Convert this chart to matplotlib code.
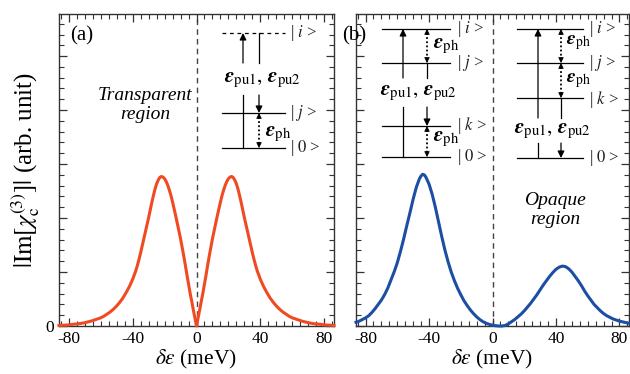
import matplotlib
matplotlib.use("Agg")
import matplotlib.pyplot as plt
from matplotlib.lines import Line2D
from matplotlib.patches import FancyArrowPatch
from matplotlib.ticker import MultipleLocator

plt.rcParams["font.family"] = ["Liberation Serif", "DejaVu Serif"]
plt.rcParams["mathtext.fontset"] = "stix"

# Panel (a): symmetric spectrum around zero detuning (meV, arb. unit)
de_a_pos = [0, 1, 2, 3, 4, 5, 6, 7, 8, 9, 10, 11, 12, 13, 14, 15, 16, 17, 18,
            19, 20, 21, 22, 23, 24, 25, 26, 27, 28, 29, 30, 31, 32, 33, 34, 35,
            36, 37, 38, 39, 40, 42, 44, 46, 48, 50, 52, 54, 56, 58, 60, 62, 64,
            66, 68, 70, 72, 74, 76, 78, 80, 83, 86]
im_a_pos = [0.00, 0.15, 0.30, 0.46, 0.61, 0.78, 0.95, 1.13, 1.30, 1.46, 1.62,
            1.76, 1.90, 2.04, 2.17, 2.30, 2.42, 2.52, 2.61, 2.68, 2.73, 2.76,
            2.77, 2.75, 2.70, 2.63, 2.53, 2.41, 2.28, 2.14, 2.00, 1.87, 1.74,
            1.61, 1.48, 1.35, 1.23, 1.12, 1.02, 0.94, 0.86, 0.73, 0.62, 0.52,
            0.44, 0.37, 0.31, 0.26, 0.22, 0.18, 0.15, 0.13, 0.11, 0.09, 0.075,
            0.06, 0.05, 0.04, 0.035, 0.03, 0.02, 0.015, 0.01]
de_a = [-v for v in de_a_pos[:0:-1]] + de_a_pos
im_a = im_a_pos[:0:-1] + im_a_pos

# Panel (b): asymmetric spectrum with a weak high-energy peak
de_b = [-86, -84, -82, -80, -78, -76, -74, -72, -70, -68, -66, -64, -62, -60,
        -58, -56, -54, -52, -50, -48, -46, -45, -44, -43, -42, -40, -38, -36,
        -34, -32, -30, -28, -26, -24, -22, -20, -18, -16, -14, -12, -10, -8,
        -6, -4, -2, 0, 2, 4, 6, 8, 10, 12, 14, 16, 18, 20, 22, 24, 26, 28, 30,
        32, 34, 36, 38, 40, 42, 44, 46, 48, 50, 52, 54, 56, 58, 60, 62, 64, 66,
        68, 70, 72, 74, 76, 78, 80, 83, 86]
im_b = [0.07, 0.09, 0.12, 0.15, 0.19, 0.25, 0.32, 0.40, 0.48, 0.58, 0.70, 0.85,
        1.00, 1.17, 1.38, 1.61, 1.86, 2.10, 2.35, 2.57, 2.73, 2.78, 2.81, 2.80,
        2.76, 2.63, 2.44, 2.20, 1.93, 1.66, 1.41, 1.19, 1.00, 0.84, 0.70, 0.58,
        0.47, 0.38, 0.30, 0.23, 0.17, 0.12, 0.08, 0.05, 0.03, 0.015, 0.005,
        0.00, 0.00, 0.01, 0.04, 0.08, 0.12, 0.17, 0.22, 0.28, 0.35, 0.42, 0.50,
        0.58, 0.67, 0.76, 0.84, 0.92, 0.99, 1.05, 1.09, 1.11, 1.10, 1.06, 1.00,
        0.92, 0.84, 0.75, 0.65, 0.56, 0.48, 0.40, 0.34, 0.28, 0.23, 0.19, 0.16,
        0.13, 0.11, 0.09, 0.07, 0.05]

x_ticks = [-80, -40, 0, 40, 80]
x_labels = ["-80", "-40", "0", "40", "80"]

W, H = 630, 374
fig = plt.figure(figsize=(W / 100, H / 100), dpi=100)
ax_a = fig.add_axes([59 / W, 48 / H, 275 / W, 312 / H])
ax_b = fig.add_axes([356 / W, 48 / H, 273 / W, 312 / H])

spine_col = "#333333"
for ax in (ax_a, ax_b):
    ax.set_xlim(-86, 86)
    ax.set_ylim(0, 5.78)
    ax.set_xticks(x_ticks)
    ax.set_xticklabels(x_labels, fontsize=12.5)
    ax.xaxis.set_minor_locator(MultipleLocator(5))
    ax.set_yticks(range(0, 6))
    ax.yaxis.set_minor_locator(MultipleLocator(0.2))
    ax.tick_params(which="both", direction="in", top=True, right=True,
                   colors=spine_col, labelcolor="black")
    ax.tick_params(which="major", length=6, width=0.9)
    ax.tick_params(which="minor", length=3.5, width=0.8)
    for s in ax.spines.values():
        s.set_color(spine_col)
        s.set_linewidth(1.0)
    ax.axvline(0, color="#444444", lw=1.0, ls=(0, (4, 3)), zorder=1)
    ax.set_xlabel(r"$\delta\varepsilon$ (meV)", fontsize=15.5, labelpad=1)

ax_a.set_yticklabels(["0", "", "", "", "", ""], fontsize=12.5)
ax_b.set_yticklabels([])
ax_a.set_ylabel(r"$|\mathrm{Im}[\chi_{\mathrm{c}}^{(3)}]|$ (arb. unit)",
                fontsize=18, labelpad=3)

ax_a.plot(de_a, im_a, color="#f04a22", lw=2.2, zorder=3, clip_on=False,
          solid_joinstyle="round")
ax_b.plot(de_b, im_b, color="#1c4ea3", lw=2.2, zorder=3, clip_on=False,
          solid_joinstyle="round")

ax_a.text(0.04, 0.93, "(a)", transform=ax_a.transAxes, fontsize=15,
          va="center", ha="left")
ax_b.text(-0.05, 0.93, "(b)", transform=ax_b.transAxes, fontsize=15,
          va="center", ha="left")
fig.text(145 / W, 1 - 105 / H, "Transparent\nregion", fontsize=14,
         style="italic", ha="center", va="center", linespacing=1.1)
fig.text(555 / W, 1 - 210 / H, "Opaque\nregion", fontsize=14,
         style="italic", ha="center", va="center", linespacing=1.1)


# Energy-level diagrams, placed in figure pixel units
def P(x, y):
    return (x / W, 1 - y / H)


def level(x0, x1, y, ls="-"):
    fig.add_artist(Line2D([x0 / W, x1 / W], [1 - y / H, 1 - y / H],
                          transform=fig.transFigure, color="k", lw=0.9, ls=ls))


def vline(x, y0, y1):
    fig.add_artist(Line2D([x / W, x / W], [1 - y0 / H, 1 - y1 / H],
                          transform=fig.transFigure, color="k", lw=0.9))


def arrow(x, y_from, y_to):
    fig.add_artist(FancyArrowPatch(
        P(x, y_from), P(x, y_to), transform=fig.transFigure,
        arrowstyle="-|>", mutation_scale=10, lw=0.9, color="k",
        shrinkA=0, shrinkB=0))


def dotted(x, y0, y1):
    fig.add_artist(Line2D([x / W, x / W], [1 - (y0 + 4) / H, 1 - (y1 - 4) / H],
                          transform=fig.transFigure, color="k", lw=1.3,
                          ls=(0, (1, 1.3))))
    for ya, yb in ((y0 + 5, y0), (y1 - 5, y1)):
        fig.add_artist(FancyArrowPatch(
            P(x, ya), P(x, yb), transform=fig.transFigure,
            arrowstyle="-|>", mutation_scale=8, lw=0.6, color="k",
            shrinkA=0, shrinkB=0))


def ket(x, y, s):
    fig.text(x / W, 1 - y / H, r"| $%s$ >" % s, fontsize=12,
             ha="left", va="center", color="#222222")


eps_pu = (r"$\mathbfit{\varepsilon}_{\rm pu1},\,"
          r"\mathbfit{\varepsilon}_{\rm pu2}$")
eps_ph = r"$\mathbfit{\varepsilon}_{\rm ph}$"

# diagram in panel (a)
level(222, 285, 33, ls=(0, (3, 3)))
level(222, 285, 113)
level(222, 285, 148)
vline(243, 148, 95)
arrow(243, 63, 33)
vline(259, 33, 63)
arrow(259, 95, 113)
dotted(259, 113, 148)
fig.text(262 / W, 1 - 80 / H, eps_pu, fontsize=15, ha="center", va="center")
fig.text(265 / W, 1 - 134 / H, eps_ph, fontsize=15, ha="left", va="center")
ket(290, 33, "i")
ket(290, 113, "j")
ket(290, 148, "0")

# left diagram in panel (b)
level(382, 450, 29)
level(382, 450, 63)
level(382, 450, 126)
level(382, 450, 157)
vline(403, 157, 107)
arrow(403, 78, 29)
dotted(427, 29, 63)
vline(427, 63, 78)
arrow(427, 107, 126)
dotted(427, 126, 157)
fig.text(418 / W, 1 - 93 / H, eps_pu, fontsize=15, ha="center", va="center")
fig.text(433 / W, 1 - 46 / H, eps_ph, fontsize=15, ha="left", va="center")
fig.text(433 / W, 1 - 139 / H, eps_ph, fontsize=15, ha="left", va="center")
ket(457, 29, "i")
ket(457, 63, "j")
ket(457, 126, "k")
ket(457, 157, "0")

# right diagram in panel (b)
level(517, 583, 29)
level(517, 583, 63)
level(517, 583, 98)
level(517, 583, 158)
vline(538, 158, 143)
arrow(538, 118, 29)
dotted(561, 29, 63)
dotted(561, 63, 98)
vline(561, 98, 118)
arrow(561, 143, 158)
fig.text(552 / W, 1 - 131 / H, eps_pu, fontsize=15, ha="center", va="center")
fig.text(566 / W, 1 - 43 / H, eps_ph, fontsize=14, ha="left", va="center")
fig.text(566 / W, 1 - 81 / H, eps_ph, fontsize=14, ha="left", va="center")
ket(589, 29, "i")
ket(589, 63, "j")
ket(589, 99, "k")
ket(589, 158, "0")

fig.savefig("out.png", dpi=100)
